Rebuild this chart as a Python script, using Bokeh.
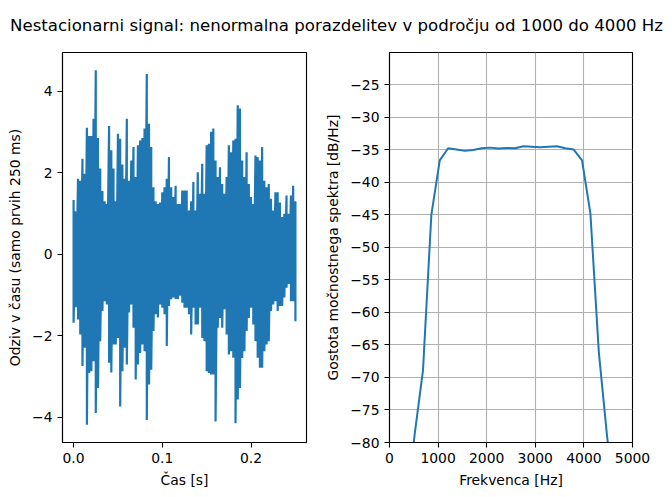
import numpy as np
from bokeh.plotting import figure
from bokeh.layouts import column, row
from bokeh.models import Range1d, FixedTicker, CustomJSTickFormatter
from bokeh.core.properties import value
from bokeh.embed import file_html
from bokeh.resources import INLINE

TITLE = "Nestacionarni signal: nenormalna porazdelitev v področju od 1000 do 4000 Hz"
LEFT_XLABEL = "Čas [s]"
LEFT_YLABEL = "Odziv v času (samo prvih 250 ms)"
RIGHT_XLABEL = "Frekvenca [Hz]"
RIGHT_YLABEL = "Gostota močnostnega spektra [dB/Hz]"

# Time signal: per time column (ms) the upper and lower extremes
t_ms = [0, 2.5, 5, 7.5, 10, 12.5, 15, 17.5, 20, 22.5,
        25, 27.5, 30, 32.5, 35, 37.5, 40, 42.5, 45, 47.5,
        50, 52.5, 55, 57.5, 60, 62.5, 65, 67.5, 70, 72.5,
        75, 77.5, 80, 82.5, 85, 87.5, 90, 92.5, 95, 97.5,
        100, 102.5, 105, 107.5, 110, 112.5, 115, 117.5, 120, 122.5,
        125, 127.5, 130, 132.5, 135, 137.5, 140, 142.5, 145, 147.5,
        150, 152.5, 155, 157.5, 160, 162.5, 165, 167.5, 170, 172.5,
        175, 177.5, 180, 182.5, 185, 187.5, 190, 192.5, 195, 197.5,
        200, 202.5, 205, 207.5, 210, 212.5, 215, 217.5, 220, 222.5,
        225, 227.5, 230, 232.5, 235, 237.5, 240, 242.5, 245, 247.5,
        250]
sig_hi = [1.33, 1.05, 1.85, 1.80, 2.34, 1.97, 3.10, 2.90, 2.90, 3.32,
          4.51, 2.85, 2.10, 1.55, 1.30, 1.23, 3.14, 2.55, 2.10, 1.30,
          2.95, 2.83, 2.20, 1.85, 3.32, 1.80, 2.30, 2.63, 1.89, 2.67,
          2.79, 2.85, 3.08, 4.42, 3.20, 2.63, 1.64, 1.30, 1.23, 1.27,
          1.52, 1.64, 1.85, 2.38, 1.64, 1.40, 1.68, 1.23, 1.23, 1.56,
          1.56, 1.56, 1.07, 1.30, 1.77, 1.07, 2.01, 1.48, 2.22, 1.48,
          2.67, 2.71, 3.00, 3.08, 2.30, 1.89, 2.13, 1.72, 1.48, 1.89,
          2.67, 2.50, 2.79, 2.83, 3.65, 3.57, 2.30, 1.89, 2.50, 1.72,
          1.40, 1.23, 2.42, 2.38, 2.30, 2.63, 1.80, 1.64, 1.72, 1.36,
          1.07, 1.52, 1.52, 1.27, 0.91, 0.99, 1.44, 0.99, 1.44, 1.68,
          1.30]
sig_lo = [-1.68, -1.30, -1.60, -1.97, -2.74, -2.29, -4.18, -2.91, -2.87, -2.62,
          -3.89, -3.28, -2.13, -1.39, -1.15, -1.23, -2.66, -2.90, -2.21, -2.21,
          -2.05, -3.73, -2.87, -2.29, -2.70, -1.43, -1.23, -1.80, -3.07, -2.70,
          -2.42, -2.21, -2.38, -4.06, -3.19, -2.83, -1.88, -1.47, -1.55, -1.23,
          -1.31, -1.47, -2.25, -1.27, -1.10, -1.06, -1.10, -1.10, -1.02, -1.19,
          -1.31, -1.31, -1.47, -1.97, -1.31, -1.72, -1.72, -1.31, -2.05, -2.13,
          -2.87, -2.91, -2.95, -2.95, -4.10, -1.80, -1.56, -1.80, -1.35, -1.97,
          -2.46, -2.38, -2.54, -4.14, -3.56, -3.28, -2.54, -2.38, -1.88, -1.56,
          -1.31, -1.72, -2.13, -2.54, -2.78, -2.78, -2.38, -2.21, -2.13, -1.39,
          -1.23, -1.15, -1.39, -1.27, -1.27, -1.06, -0.82, -0.73, -1.15, -1.15,
          -1.64]

# Power spectral density (Welch), frequencies in Hz and values in dB/Hz
psd_freq = [345, 517, 689, 861, 1034, 1206, 1378, 1550, 1723, 1895,
            2067, 2239, 2412, 2584, 2756, 2928, 3101, 3273, 3445, 3618,
            3790, 3962, 4134, 4307, 4479, 4651]
psd_db = [-90.0, -78.8, -68.9, -45.0, -36.6, -34.75, -34.95, -35.15, -35.0, -34.75,
          -34.65, -34.8, -34.7, -34.75, -34.45, -34.5, -34.6, -34.5, -34.45, -34.75,
          -34.95, -36.6, -44.8, -66.1, -79.2, -90.0]

time_ticks = [0.0, 0.1, 0.2]
sig_ticks = [-4, -2, 0, 2, 4]
freq_ticks = [0, 1000, 2000, 3000, 4000, 5000]
db_ticks = [-80, -75, -70, -65, -60, -55, -50, -45, -40, -35, -30, -25]

BLUE = "#1f77b4"
FONT = "DejaVu Sans"
FS = "13.9px"

# zig-zag through the column extremes
xs, ys = [], []
for t, h, l in zip(t_ms, sig_hi, sig_lo):
    xs += [t / 1000.0, t / 1000.0]
    ys += [h, l]

def fmt(decimals):
    return CustomJSTickFormatter(code=(
        "return (tick < 0 ? '\\u2212' : '') + Math.abs(tick).toFixed(%d);" % decimals))

def style(p):
    p.outline_line_color = "black"
    p.outline_line_width = 1.1
    p.background_fill_color = "white"
    p.border_fill_color = "white"
    for ax in p.axis:
        ax.axis_line_color = "black"
        ax.axis_line_width = 1.1
        ax.major_tick_line_color = "black"
        ax.major_tick_line_width = 1.1
        ax.major_tick_out = 5
        ax.major_tick_in = 0
        ax.minor_tick_out = 0
        ax.minor_tick_in = 0
        ax.major_label_text_font = FONT
        ax.major_label_text_font_size = FS
        ax.major_label_text_color = "black"
        ax.major_label_standoff = 5
        ax.axis_label_text_font = FONT
        ax.axis_label_text_font_size = FS
        ax.axis_label_text_font_style = "normal"
        ax.axis_label_text_color = "black"
        ax.axis_label_standoff = 6

# Title strip
pt = figure(width=668, height=44, x_range=Range1d(0, 668), y_range=Range1d(0, 44),
            x_axis_location=None, y_axis_location=None, toolbar_location=None,
            output_backend="svg", min_border=0)
pt.outline_line_color = None
pt.grid.visible = False
pt.text(x=[336], y=[19.5], text=[TITLE], text_align="center", text_baseline="alphabetic",
        text_font=value(FONT), text_font_size="16.6px", text_color="black")

# Left: time signal
ymin, ymax = min(sig_lo), max(sig_hi)
ypad = 0.05 * (ymax - ymin)
tmax = t_ms[-1] / 1000.0
p1 = figure(frame_width=244, frame_height=390,
            x_range=Range1d(-0.05 * tmax, 1.05 * tmax),
            y_range=Range1d(ymin - ypad, ymax + ypad),
            toolbar_location=None, output_backend="svg",
            min_border_left=62, min_border_right=10, min_border_top=8, min_border_bottom=52)
p1.line(xs, ys, line_color=BLUE, line_width=2.2)
p1.grid.visible = False
p1.xaxis.ticker = FixedTicker(ticks=time_ticks)
p1.yaxis.ticker = FixedTicker(ticks=sig_ticks)
p1.xaxis.formatter = fmt(1)
p1.yaxis.formatter = fmt(0)
p1.xaxis.axis_label = LEFT_XLABEL
p1.yaxis.axis_label = LEFT_YLABEL
style(p1)

# Right: PSD
p2 = figure(frame_width=243, frame_height=390,
            x_range=Range1d(0, 5000), y_range=Range1d(-80, -20.02),
            toolbar_location=None, output_backend="svg",
            min_border_left=73, min_border_right=36, min_border_top=8, min_border_bottom=52)
p2.line(psd_freq, psd_db, line_color=BLUE, line_width=2)
p2.xaxis.ticker = FixedTicker(ticks=freq_ticks)
p2.yaxis.ticker = FixedTicker(ticks=db_ticks)
p2.xaxis.formatter = fmt(0)
p2.yaxis.formatter = fmt(0)
p2.xaxis.axis_label = RIGHT_XLABEL
p2.yaxis.axis_label = RIGHT_YLABEL
p2.grid.grid_line_color = "#b0b0b0"
p2.grid.grid_line_width = 1.1
style(p2)

layout = column(pt, row(p1, p2, spacing=0), spacing=0)
open("out.html", "w", encoding="utf-8").write(file_html(layout, INLINE))
